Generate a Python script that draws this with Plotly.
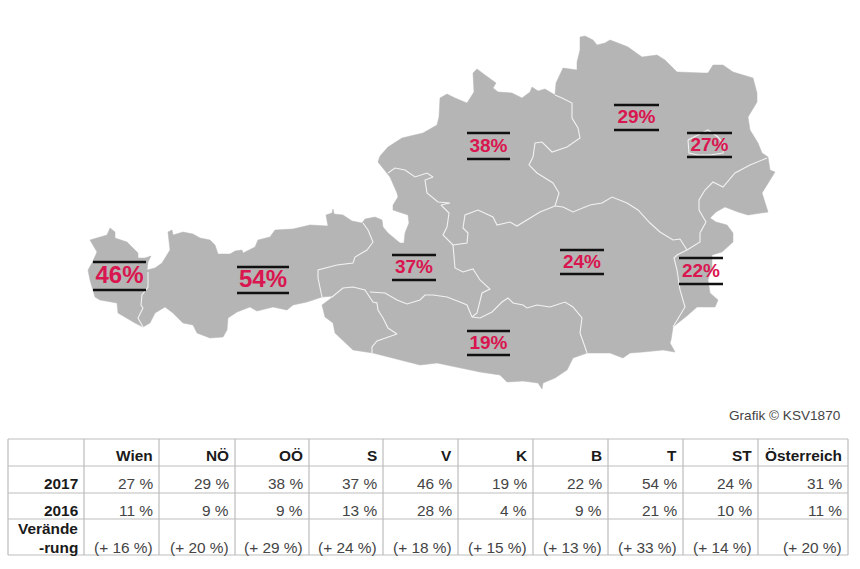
import plotly.graph_objects as go

# ---------- table data ----------
COLUMNS = ["Wien", "NÖ", "OÖ", "S", "V", "K", "B", "T", "ST", "Österreich"]
VALUES_2017 = [27, 29, 38, 37, 46, 19, 22, 54, 24, 31]
VALUES_2016 = [11, 9, 9, 13, 28, 4, 9, 21, 10, 11]
CHANGE = [16, 20, 29, 24, 18, 15, 13, 33, 14, 20]
ROW_LABELS = ["2017", "2016"]

# ---------- map outline (image pixel space) ----------
OUTLINE = [
 (90,240),(98,238),(107,235),(110,228),(115,232),(115,238),(127,242),(132,247),(138,253),(138,258),
 (145,258),(151,256),(148,262),(147,270),(155,268),(162,263),(170,250),(168,232),(172,230),(173,235),
 (183,232),(193,234),(200,238),(210,240),(215,245),(218,254),(230,254),(235,251),(242,250),(243,253),
 (255,247),(258,240),(270,237),(275,230),(293,229),(310,225),(328,226),(326,215),(332,213),(333,209),
 (334,214),(343,215),(352,221),(362,223),(365,219),(375,217),(382,220),(383,227),(388,233),(400,243),
 (404,243),(405,233),(409,223),(408,215),(402,213),(393,210),(393,205),(398,197),(397,193),(390,177),
 (378,162),(380,156),(388,147),(402,138),(423,133),(437,125),(439,117),(440,98),(447,94),(455,98),
 (467,103),(474,92),(473,73),(477,69),(485,75),(496,83),(493,88),(498,92),(512,93),(522,98),
 (530,92),(532,87),(538,91),(545,89),(555,95),(556,83),(563,68),(577,70),(577,62),(580,50),
 (580,37),(585,36),(593,40),(597,45),(605,43),(610,40),(618,43),(628,47),(642,57),(657,55),
 (665,60),(677,72),(703,73),(708,73),(713,65),(723,65),(733,72),(753,78),(757,93),(757,102),
 (748,117),(750,130),(758,143),(762,153),(768,157),(770,170),(775,172),(768,183),(762,193),(768,212),
 (748,215),(738,212),(725,207),(716,212),(710,218),(716,222),(727,225),(733,233),(733,242),(722,252),
 (712,255),(712,267),(708,280),(710,293),(718,300),(715,307),(697,307),(688,315),(673,327),(671,340),
 (670,343),(675,352),(663,350),(643,352),(630,353),(623,358),(610,353),(587,353),(573,358),(567,370),
 (555,378),(543,383),(542,389),(538,383),(523,381),(507,382),(500,375),(480,372),(460,368),(437,363),
 (420,365),(400,360),(373,353),(353,350),(343,340),(335,333),(333,323),(325,317),(322,305),(330,299),
 (334,296),(322,297),(307,302),(293,305),(287,310),(273,307),(257,311),(250,307),(237,312),(228,318),
 (227,330),(223,337),(210,338),(197,333),(193,325),(183,323),(173,313),(165,307),(155,313),(150,323),
 (143,327),(135,323),(118,313),(117,303),(100,300),(95,297),(90,280),(88,270),(92,263),(97,252),(90,240),
]

# ---------- internal state borders ----------
BORDER_V_T = [(148,272),(148,287),(142,295),(141,305),(143,308),(138,318),(143,327)]
BORDER_T_S = [(363,223),(368,230),(373,242),(367,250),(355,257),(353,263),(337,265),(318,270),(318,278),(322,297)]
BORDER_ET_S = [(332,297),(343,288),(353,287),(365,290),(373,302),(377,303),(378,310),(383,318),(388,328),(397,334),(377,341),(372,347),(372,353)]
BORDER_S_K = [(370,292),(385,293),(397,300),(407,304),(420,300),(425,295),(433,295),(447,297),(460,302),(467,305),(472,317)]
BORDER_K_ST = [(472,317),(480,318),(492,312),(502,302),(508,298),(513,303),(523,305),(527,308),(537,305),(550,307),(565,302),(573,307),(582,318),(580,333),(585,347),(587,353)]
BORDER_S_ST = [(472,317),(477,313),(482,293),(490,289),(480,280),(473,269),(463,272),(455,268),(453,245)]
BORDER_OOE_S = [(388,173),(395,168),(405,170),(415,177),(427,173),(433,177),(425,180),(427,193),(438,202),(450,203),(441,205),(449,213),(447,227),(443,235),(453,245)]
BORDER_OOE_ST = [(453,245),(467,243),(468,233),(463,228),(465,215),(478,210),(493,217),(497,225),(510,222),(517,226),(540,212),(555,206)]
BORDER_OOE_NOE = [(555,206),(559,193),(553,183),(537,173),(529,165),(533,157),(535,143),(542,142),(552,152),(567,147),(580,138),(578,128),(572,118),(572,103),(562,98),(555,95)]
BORDER_NOE_ST = [(555,206),(563,207),(573,212),(590,205),(602,203),(612,197),(627,203),(638,210),(650,223),(660,232),(673,240),(680,239),(687,250)]
BORDER_ST_B = [(687,250),(677,255),(674,258),(677,270),(680,290),(685,307),(673,327)]
BORDER_NOE_B = [(687,250),(700,242),(700,233),(706,222),(699,210),(699,200),(705,190),(713,182),(723,187),(735,173),(750,165),(758,162),(767,158)]
BORDER_WIEN = [(688,140),(698,135),(708,130),(718,137),(724,145),(723,153),(710,155),(698,155),(689,153),(688,140)]
BORDERS = [BORDER_V_T, BORDER_T_S, BORDER_ET_S, BORDER_S_K, BORDER_K_ST, BORDER_S_ST, BORDER_OOE_S,
           BORDER_OOE_ST, BORDER_OOE_NOE, BORDER_NOE_ST, BORDER_ST_B, BORDER_NOE_B, BORDER_WIEN]

# ---------- map label placement: column, x-left, x-right, top bar, bottom bar, font size ----------
MAP_LABELS = [
 ("V", 93, 146, 262, 290, 24),
 ("T", 237, 289, 267, 293, 24),
 ("S", 392, 436, 255, 280, 19),
 ("OÖ", 467, 510, 133, 159, 19),
 ("NÖ", 614, 659, 105, 130, 19),
 ("Wien", 687, 732, 133, 157, 19),
 ("ST", 560, 604, 250, 274, 19),
 ("B", 679, 723, 258, 284, 19),
 ("K", 467, 510, 331, 355, 19),
]

# ---------- table grid ----------
GRID_X = [8, 84, 159, 235, 309, 383, 458, 533, 608, 683, 758, 848]
GRID_Y = [439, 466, 493, 519, 555]

GREY = "#b5b5b5"
CRIMSON = "#d9164f"
FONT = "Liberation Sans, Arial, sans-serif"

fig = go.Figure()

fig.add_trace(go.Scatter(x=[p[0] for p in OUTLINE], y=[p[1] for p in OUTLINE], mode="lines",
                         fill="toself", fillcolor=GREY, line=dict(color=GREY, width=0.5), hoverinfo="skip"))
for b in BORDERS:
    fig.add_trace(go.Scatter(x=[p[0] for p in b], y=[p[1] for p in b], mode="lines",
                             line=dict(color="#f2f2f2", width=1.1), hoverinfo="skip"))

for name, x0, x1, y0, y1, size in MAP_LABELS:
    v = VALUES_2017[COLUMNS.index(name)]
    fig.add_trace(go.Scatter(x=[x0, x1, None, x0, x1], y=[y0, y0, None, y1, y1], mode="lines",
                             line=dict(color="#111111", width=2.4), hoverinfo="skip"))
    fig.add_trace(go.Scatter(x=[(x0 + x1) / 2], y=[(y0 + y1) / 2 + 1.2], mode="text", text=[f"<b>{v}%</b>"],
                             textposition="middle center",
                             textfont=dict(family=FONT, size=size, color=CRIMSON), hoverinfo="skip"))

# table grid lines
for gx in GRID_X:
    fig.add_trace(go.Scatter(x=[gx, gx], y=[GRID_Y[0], GRID_Y[-1]], mode="lines",
                             line=dict(color="#bdbdbd", width=1.2), hoverinfo="skip"))
for gy in GRID_Y:
    fig.add_trace(go.Scatter(x=[GRID_X[0], GRID_X[-1]], y=[gy, gy], mode="lines",
                             line=dict(color="#bdbdbd", width=1.2), hoverinfo="skip"))

annotations = []
def cell(x, y, text, bold=False, color="#444444", size=15.4):
    annotations.append(dict(x=x, y=y, xref="x", yref="y", text=f"<b>{text}</b>" if bold else text,
                            xanchor="right", yanchor="middle", showarrow=False,
                            font=dict(family=FONT, size=size, color=color), borderpad=0))

TEXT_Y = [455, 483, 510, 547]
for i, name in enumerate(COLUMNS):
    r = GRID_X[i + 2] - 5
    cell(r, TEXT_Y[0], name, bold=True, color="#1a1a1a")
    cell(r, TEXT_Y[1], f"{VALUES_2017[i]} %")
    cell(r, TEXT_Y[2], f"{VALUES_2016[i]} %")
    cell(r, TEXT_Y[3], f"(+ {CHANGE[i]} %)")

rl = GRID_X[1] - 5
cell(rl, TEXT_Y[1], ROW_LABELS[0], bold=True, color="#1a1a1a")
cell(rl, TEXT_Y[2], ROW_LABELS[1], bold=True, color="#1a1a1a")
cell(rl, 528, "Verände", bold=True, color="#1a1a1a")
cell(rl, 547, "-rung", bold=True, color="#1a1a1a")
cell(842, 415, "Grafik © KSV1870", size=13.6)

fig.update_layout(
    width=860, height=569, margin=dict(l=0, r=0, t=0, b=0), showlegend=False,
    paper_bgcolor="white", plot_bgcolor="white", annotations=annotations,
    xaxis=dict(range=[0, 860], visible=False, fixedrange=True),
    yaxis=dict(range=[569, 0], visible=False, fixedrange=True),
)
fig.write_html("out.html", config={"displayModeBar": False},
               post_script="document.body.style.margin='0';document.documentElement.style.overflow='hidden';")
